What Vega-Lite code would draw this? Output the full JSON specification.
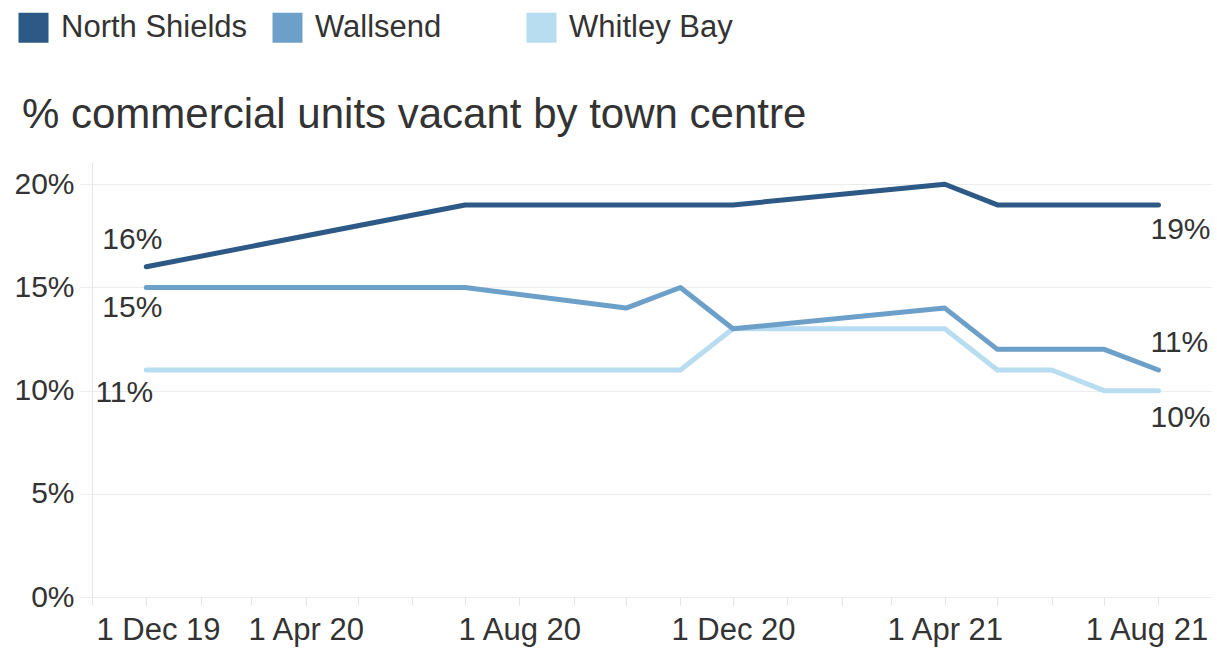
{
  "$schema": "https://vega.github.io/schema/vega-lite/v6.json",
  "width": 1119,
  "height": 435,
  "autosize": {"type": "none"},
  "padding": {"left": 92, "top": 162, "right": 6, "bottom": 51},
  "background": "white",
  "title": {
    "text": "% commercial units vacant by town centre",
    "anchor": "start",
    "fontSize": 42,
    "fontWeight": "normal",
    "color": "#333333",
    "font": "Liberation Sans",
    "baseline": "alphabetic",
    "dx": 8,
    "offset": 0,
    "dy": 158
  },
  "config": {
    "font": "Liberation Sans",
    "view": {"stroke": null}
  },
  "data": {
    "values": [
      {"series": "Whitley Bay", "date": "2020-01-01", "value": 0.11},
      {"series": "Whitley Bay", "date": "2020-11-01", "value": 0.11},
      {"series": "Whitley Bay", "date": "2020-12-01", "value": 0.13},
      {"series": "Whitley Bay", "date": "2021-04-01", "value": 0.13},
      {"series": "Whitley Bay", "date": "2021-05-01", "value": 0.11},
      {"series": "Whitley Bay", "date": "2021-06-01", "value": 0.11},
      {"series": "Whitley Bay", "date": "2021-07-01", "value": 0.10},
      {"series": "Whitley Bay", "date": "2021-08-01", "value": 0.10},
      {"series": "North Shields", "date": "2020-01-01", "value": 0.16},
      {"series": "North Shields", "date": "2020-07-01", "value": 0.19},
      {"series": "North Shields", "date": "2020-12-01", "value": 0.19},
      {"series": "North Shields", "date": "2021-04-01", "value": 0.20},
      {"series": "North Shields", "date": "2021-05-01", "value": 0.19},
      {"series": "North Shields", "date": "2021-08-01", "value": 0.19},
      {"series": "Wallsend", "date": "2020-01-01", "value": 0.15},
      {"series": "Wallsend", "date": "2020-07-01", "value": 0.15},
      {"series": "Wallsend", "date": "2020-10-01", "value": 0.14},
      {"series": "Wallsend", "date": "2020-11-01", "value": 0.15},
      {"series": "Wallsend", "date": "2020-12-01", "value": 0.13},
      {"series": "Wallsend", "date": "2021-04-01", "value": 0.14},
      {"series": "Wallsend", "date": "2021-05-01", "value": 0.12},
      {"series": "Wallsend", "date": "2021-07-01", "value": 0.12},
      {"series": "Wallsend", "date": "2021-08-01", "value": 0.11}
    ]
  },
  "encoding": {
    "x": {
      "field": "date",
      "type": "temporal",
      "scale": {
        "type": "utc",
        "domain": [
          {"year": 2019, "month": 12, "date": 1, "utc": true},
          {"year": 2021, "month": 8, "date": 31, "utc": true}
        ]
      },
      "axis": {
        "title": null,
        "grid": false,
        "tickCount": {"interval": "month", "step": 1},
        "labelExpr": "utcmonth(datum.value) % 4 == 3 ? '1 ' + utcFormat(datum.value, '%b %y') : ''",
        "labelOverlap": false,
        "labelFlush": 1,
        "labelFlushOffset": -4,
        "labelOffset": {"condition": {"test": "utcyear(datum.value) == 2021 && utcmonth(datum.value) == 7", "value": -12}, "value": 0},
        "labelFontSize": 31,
        "labelColor": "#333333",
        "labelPadding": 10,
        "tickSize": 8,
        "tickColor": "#e4e4e4",
        "domainColor": "#ececec"
      }
    },
    "y": {
      "field": "value",
      "type": "quantitative",
      "scale": {"domain": [0, 0.2108], "nice": false},
      "axis": {
        "title": null,
        "values": [0, 0.05, 0.1, 0.15, 0.2],
        "format": ".0%",
        "labelFontSize": 30,
        "labelColor": "#333333",
        "labelPadding": 6,
        "tickSize": 12,
        "tickColor": "#ececec",
        "domainColor": "#e4e4e4",
        "gridColor": "#ececec"
      }
    }
  },
  "layer": [
    {
      "mark": {"type": "line", "strokeWidth": 5, "strokeCap": "round", "strokeJoin": "round"},
      "encoding": {
        "color": {
          "field": "series",
          "type": "nominal",
          "scale": {
            "domain": ["North Shields", "Wallsend", "Whitley Bay"],
            "range": ["#2c5985", "#6ca0c9", "#b8ddf1"]
          },
          "legend": {
            "title": null,
            "orient": "none",
            "legendX": -74,
            "legendY": -150,
            "direction": "horizontal",
            "columns": 3,
            "gridAlign": "all",
            "columnPadding": 24,
            "symbolType": "square",
            "symbolSize": 900,
            "symbolStrokeWidth": 0,
            "labelFontSize": 31,
            "labelColor": "#333333",
            "labelOffset": 12,
            "labelLimit": 400,
            "encode": {
              "symbols": {
                "update": {
                  "fill": {"scale": "color", "field": "value"},
                  "stroke": {"value": "transparent"},
                  "opacity": {"value": 1}
                }
              }
            }
          }
        }
      }
    },
    {
      "transform": [{"filter": {"and": [{"field": "series", "equal": "North Shields"}, {"field": "date", "equal": {"year": 2020, "month": 1, "date": 1, "utc": true}}]}}],
      "mark": {"type": "text", "fontSize": 30, "color": "#333333", "align": "center", "baseline": "alphabetic", "dx": -14, "dy": -18},
      "encoding": {"text": {"field": "value", "type": "quantitative", "format": ".0%"}}
    },
    {
      "transform": [{"filter": {"and": [{"field": "series", "equal": "Wallsend"}, {"field": "date", "equal": {"year": 2020, "month": 1, "date": 1, "utc": true}}]}}],
      "mark": {"type": "text", "fontSize": 30, "color": "#333333", "align": "center", "baseline": "alphabetic", "dx": -14, "dy": 30},
      "encoding": {"text": {"field": "value", "type": "quantitative", "format": ".0%"}}
    },
    {
      "transform": [{"filter": {"and": [{"field": "series", "equal": "Whitley Bay"}, {"field": "date", "equal": {"year": 2020, "month": 1, "date": 1, "utc": true}}]}}],
      "mark": {"type": "text", "fontSize": 30, "color": "#333333", "align": "center", "baseline": "alphabetic", "dx": -22, "dy": 32},
      "encoding": {"text": {"field": "value", "type": "quantitative", "format": ".0%"}}
    },
    {
      "transform": [{"filter": {"and": [{"field": "series", "equal": "North Shields"}, {"field": "date", "equal": {"year": 2021, "month": 8, "date": 1, "utc": true}}]}}],
      "mark": {"type": "text", "fontSize": 30, "color": "#333333", "align": "left", "baseline": "alphabetic", "dx": -8, "dy": 34},
      "encoding": {"text": {"field": "value", "type": "quantitative", "format": ".0%"}}
    },
    {
      "transform": [{"filter": {"and": [{"field": "series", "equal": "Wallsend"}, {"field": "date", "equal": {"year": 2021, "month": 8, "date": 1, "utc": true}}]}}],
      "mark": {"type": "text", "fontSize": 30, "color": "#333333", "align": "left", "baseline": "alphabetic", "dx": -8, "dy": -18},
      "encoding": {"text": {"field": "value", "type": "quantitative", "format": ".0%"}}
    },
    {
      "transform": [{"filter": {"and": [{"field": "series", "equal": "Whitley Bay"}, {"field": "date", "equal": {"year": 2021, "month": 8, "date": 1, "utc": true}}]}}],
      "mark": {"type": "text", "fontSize": 30, "color": "#333333", "align": "left", "baseline": "alphabetic", "dx": -8, "dy": 36},
      "encoding": {"text": {"field": "value", "type": "quantitative", "format": ".0%"}}
    }
  ]
}
